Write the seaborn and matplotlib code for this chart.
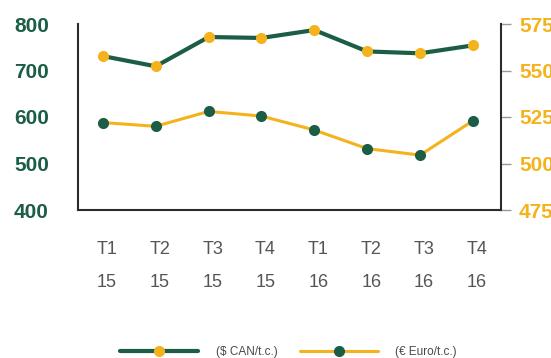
import matplotlib
matplotlib.use("Agg")
import matplotlib.pyplot as plt
import matplotlib.transforms as mtransforms
import seaborn as sns
import pandas as pd
from matplotlib.lines import Line2D

# Quarterly prices
quarters = ["T1\n15", "T2\n15", "T3\n15", "T4\n15", "T1\n16", "T2\n16", "T3\n16", "T4\n16"]
cad_values = [731, 709, 772, 770, 787, 741, 737, 754]          # $ CAN / t.c. (left axis)
eur_values = [522, 520, 528, 525.5, 518, 508, 504.5, 523]      # € Euro / t.c. (right axis)
left_ticks = [400, 500, 600, 700, 800]
right_ticks = [475, 500, 525, 550, 575]
series_labels = ["($ CAN/t.c.)", "(€ Euro/t.c.)"]

GREEN = "#1b5e45"
GOLD = "#f4b31c"
GREY = "#555555"
SPINE = "#2b2b2b"

sns.set_theme(style="white")
plt.rcParams["font.family"] = ["Liberation Sans", "DejaVu Sans"]

fig = plt.figure(figsize=(5.51, 3.58), dpi=100)
ax = fig.add_axes([78 / 551, 1 - 210 / 358, (501 - 78) / 551, (210 - 24) / 358])
ax2 = ax.twinx()

df = pd.DataFrame({"pos": range(len(quarters)), "cad": cad_values, "eur": eur_values})

sns.lineplot(data=df, x="pos", y="cad", ax=ax, color=GREEN, lw=3.0,
             marker="o", markersize=8, markerfacecolor=GOLD, markeredgewidth=0)
sns.lineplot(data=df, x="pos", y="eur", ax=ax2, color=GOLD, lw=2.2,
             marker="o", markersize=8, markerfacecolor=GREEN, markeredgewidth=0)

ax.set_xlim(-0.47, 7.53)
ax.set_ylim(left_ticks[0], left_ticks[-1])
ax2.set_ylim(right_ticks[0], right_ticks[-1])

ax.set_xticks(range(len(quarters)))
ax.set_xticklabels(quarters, linespacing=2.3)
ax.set_yticks(left_ticks)
ax2.set_yticks(right_ticks)

for a in (ax, ax2):
    a.set_xlabel("")
    a.set_ylabel("")
    a.spines["top"].set_visible(False)
    for s in ("left", "right", "bottom"):
        a.spines[s].set_color(SPINE)
        a.spines[s].set_linewidth(1.5)

ax.spines["right"].set_visible(False)
ax2.spines["left"].set_visible(False)
ax2.spines["bottom"].set_visible(False)

ax.tick_params(axis="x", length=0, pad=22, labelsize=13, labelcolor=GREY)
ax.tick_params(axis="y", length=0, pad=21, labelsize=15, labelcolor=GREEN)
ax2.tick_params(axis="y", length=7, width=1, color="#999999", pad=6,
                labelsize=15, labelcolor=GOLD)
for lbl in ax.get_yticklabels() + ax2.get_yticklabels():
    lbl.set_fontweight("bold")

# nudge the quarter labels slightly to the right
shift = mtransforms.ScaledTranslation(4 / 100, 0, fig.dpi_scale_trans)
for lbl in ax.get_xticklabels():
    lbl.set_transform(lbl.get_transform() + shift)

handles = [
    Line2D([], [], color=GREEN, lw=3.0, marker="o", markersize=8,
           markerfacecolor=GOLD, markeredgewidth=0),
    Line2D([], [], color=GOLD, lw=2.2, marker="o", markersize=8,
           markerfacecolor=GREEN, markeredgewidth=0),
]
leg = fig.legend(handles, series_labels, loc="center", bbox_to_anchor=(0.524, 0.017),
                 ncol=2, frameon=False, fontsize=8.5, handlelength=6.6,
                 handletextpad=1.45, columnspacing=1.95)
for t in leg.get_texts():
    t.set_color("#4a4a4a")

fig.savefig("out.png", dpi=100)
